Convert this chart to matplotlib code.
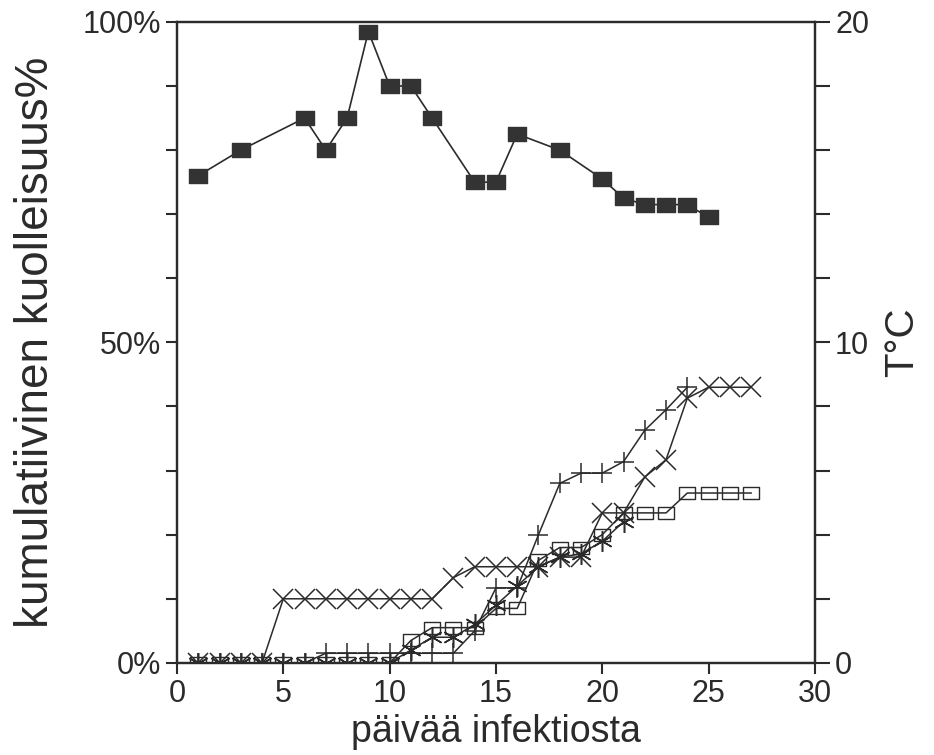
import matplotlib.pyplot as plt
from matplotlib.path import Path

plt.rcParams['font.family'] = ['Liberation Sans', 'DejaVu Sans']

# temperature (right axis, deg C)
temp_days = [1, 3, 6, 7, 8, 9, 10, 11, 12, 14, 15, 16, 18, 20, 21, 22, 23, 24, 25]
temp_vals = [15.2, 16.0, 17.0, 16.0, 17.0, 19.7, 18.0, 18.0, 17.0, 15.0, 15.0, 16.5,
             16.0, 15.1, 14.5, 14.3, 14.3, 14.3, 13.9]

# cumulative mortality (%), days 1..27
days = list(range(1, 28))
mort_x = [0, 0, 0, 0, 10, 10, 10, 10, 10, 10, 10, 10, 13.3, 15, 15, 15, 15, 16.5, 16.5,
          23.4, 23.4, 29, 31.7, 41.3, 43, 43, 43]
plus_days = list(range(1, 25))
mort_plus = [0, 0, 0, 0, 0, 0, 1.5, 1.5, 1.5, 1.5, 1.5, 1.5, 1.5, 5, 11.7, 11.7, 20, 28,
             29.6, 29.6, 31.4, 36.3, 39.5, 43]
mort_sq = [0, 0, 0, 0, 0, 0, 0, 0, 0, 0, 3.5, 5.5, 5.5, 5.5, 8.5, 8.5, 16, 18, 18, 20,
           23.4, 23.4, 23.4, 26.5, 26.5, 26.5, 26.5]
star_days = list(range(1, 22))
mort_star = [0, 0, 0, 0, 0, 0, 0, 0, 0, 0, 2, 4, 4, 6, 9, 12, 15, 16.5, 17, 19, 22]

rect = Path([(-1, -0.75), (1, -0.75), (1, 0.75), (-1, 0.75), (-1, -0.75)],
            [Path.MOVETO, Path.LINETO, Path.LINETO, Path.LINETO, Path.CLOSEPOLY])
ink = '#2b2b2b'

fig = plt.figure(figsize=(9.34, 7.55), dpi=100)
ax = fig.add_axes([0.1895, 0.122, 0.683, 0.849])
ax2 = ax.twinx()

ax.plot(days, mort_x, color=ink, lw=1.1, marker='x', ms=15, mew=1.1)
ax.plot(plus_days, mort_plus, color=ink, lw=1.1, marker='+', ms=15, mew=1.1)
ax.plot(days, mort_sq, color=ink, lw=1.1, marker=rect, ms=11, mew=1.0,
        mfc='none', mec=ink)
ax.plot(star_days, mort_star, color=ink, lw=1.1, marker=(6, 2, 0), ms=15, mew=1.1)

ax2.plot(temp_days, temp_vals, color=ink, lw=1.2, marker=rect, ms=13, mfc='#333333',
         mec='#333333')

ax.set_xlim(0, 30)
ax.set_ylim(0, 100)
ax2.set_ylim(0, 20)

ax.set_xticks([0, 5, 10, 15, 20, 25, 30])
ax.set_yticks(range(0, 101, 10))
ax.set_yticklabels(['0%' if v == 0 else '50%' if v == 50 else '100%' if v == 100 else ''
                    for v in range(0, 101, 10)])
ax2.set_yticks(range(0, 21, 2))
ax2.set_yticklabels([str(v) if v % 10 == 0 else '' for v in range(0, 21, 2)])

ax.tick_params(axis='both', labelsize=22, width=1.5, length=8, color=ink, labelcolor=ink)
ax2.tick_params(axis='y', labelsize=22, width=1.5, length=11, color=ink, labelcolor=ink)

for a in (ax, ax2):
    for s in a.spines.values():
        s.set_linewidth(1.6)
        s.set_color(ink)

ax.set_xlabel('päivää infektiosta', fontsize=27, color=ink, labelpad=4)
ax.set_ylabel('kumulatiivinen kuolleisuus%', fontsize=33, color=ink, labelpad=18)
ax2.set_ylabel('T°C', fontsize=29, color=ink, labelpad=10)

fig.savefig('out.png', dpi=100)
